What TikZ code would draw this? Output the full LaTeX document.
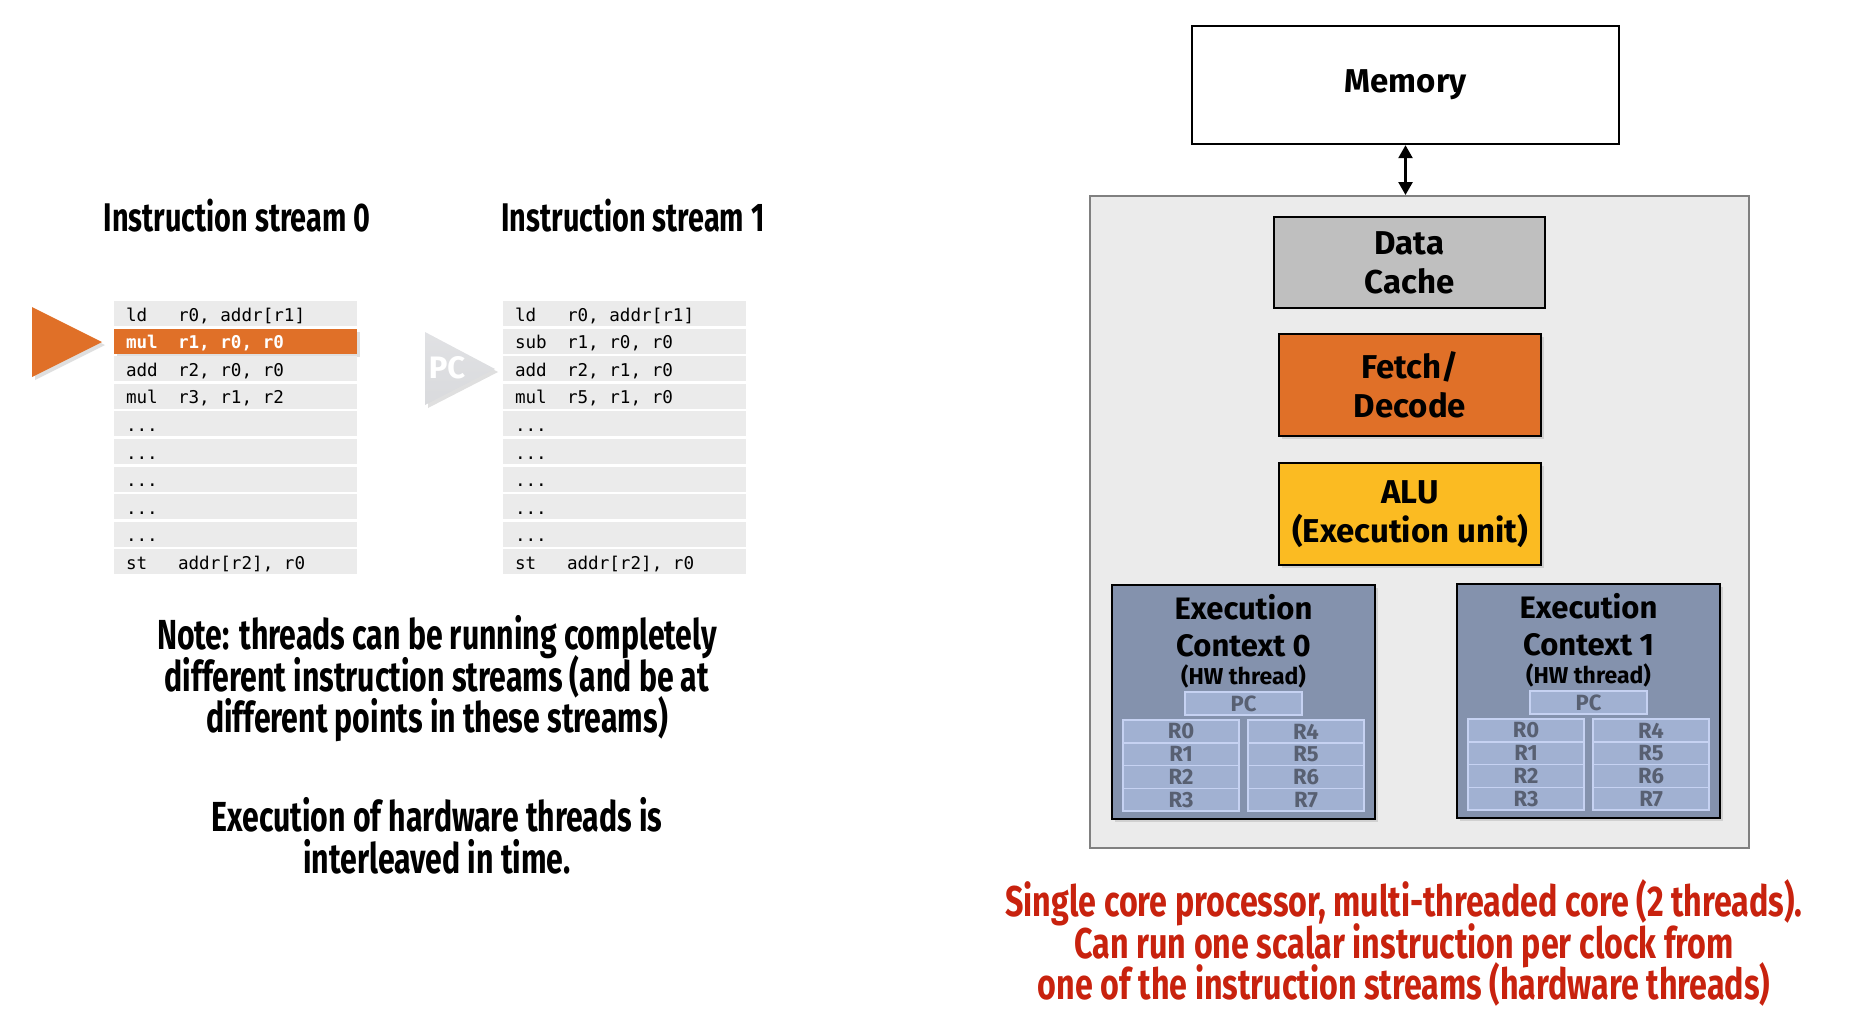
\documentclass[tikz,border=0pt]{standalone}
\usepackage{fontspec}
\setmainfont{Fira Sans}
\setmonofont{DejaVu Sans Mono}
\newfontfamily\condfont[FakeStretch=0.72]{Fira Sans}
\newfontfamily\capfont[FakeStretch=0.75]{Fira Sans}
\usetikzlibrary{arrows.meta, positioning, shadows, calc}

\definecolor{RowGray}{RGB}{235,235,235}
\definecolor{CoreGray}{RGB}{235,235,235}
\definecolor{CoreEdge}{RGB}{128,128,128}
\definecolor{CacheGray}{RGB}{191,191,191}
\definecolor{FetchOrange}{RGB}{224,112,40}
\definecolor{AluYellow}{RGB}{251,187,34}
\definecolor{CtxBlue}{RGB}{132,146,173}
\definecolor{RegBlue}{RGB}{161,177,210}
\definecolor{RegEdge}{RGB}{198,210,242}
\definecolor{RegText}{RGB}{88,96,114}
\definecolor{PcGray}{RGB}{217,218,221}
\definecolor{NoteRed}{RGB}{200,34,14}

\newcommand{\headfont}{\condfont\bfseries\fontsize{40}{41.5}\selectfont}
\newcommand{\notefont}{\condfont\bfseries\fontsize{42}{41.5}\selectfont\lineskiplimit=-100pt}
\newcommand{\capsfont}{\capfont\bfseries\fontsize{43}{41.5}\selectfont\lineskiplimit=-100pt}
\newcommand{\boxfont}{\bfseries\fontsize{33}{39}\selectfont\lineskiplimit=-100pt}
\newcommand{\codefont}{\ttfamily\fontsize{17.6}{20}\selectfont}
\newcommand{\regfont}{\bfseries\fontsize{22}{22}\selectfont}
\newcommand{\elide}{...}

\begin{document}
\begin{tikzpicture}[x=1pt, y=-1pt, >=Stealth,
    unitbox/.style={draw=black, line width=2.4pt, inner sep=0pt, align=center, font=\boxfont},
    softshadow/.style={drop shadow={opacity=0.25, shadow xshift=3pt, shadow yshift=-3pt}},
    coderow/.style={fill=RowGray, minimum width=243pt, minimum height=25pt, inner sep=0pt},
    hotrow/.style={coderow, fill=FetchOrange, softshadow},
    codetxt/.style={anchor=west, inner sep=0pt, font=\codefont, text height=15pt, text depth=0pt},
    hottxt/.style={codetxt, text=white, font=\codefont\bfseries},
    ctxbox/.style={draw=black, line width=2.6pt, fill=CtxBlue, minimum width=263pt, minimum height=234pt, softshadow},
    regcell/.style={draw=RegEdge, line width=1.5pt, fill=RegBlue, minimum width=116pt, minimum height=22.75pt, inner sep=0pt, text=RegText, font=\regfont}]
    \useasboundingbox (0,0) rectangle (1862,1034);

    % Headings of the two streams
    \node[font=\headfont] (head0) at (237,216) {Instruction stream 0};
    \node[font=\headfont] (head1) at (633,216) {Instruction stream 1};

    % Stream 0: rows, mnemonic column at +12, operands at +64
    \foreach \mn/\op [count=\i from 0] in {ld/{r0, addr[r1]}, mul/{r1, r0, r0}, add/{r2, r0, r0}, mul/{r3, r1, r2}, \elide/{}, \elide/{}, \elide/{}, \elide/{}, \elide/{}, st/{addr[r2], r0}} {
        \ifnum\i=1 \def\rowstyle{hotrow}\def\txtstyle{hottxt}\else\def\rowstyle{coderow}\def\txtstyle{codetxt}\fi
        \node[\rowstyle] (sa\i) at (235.5,{313.5+27.6*\i}) {};
        \node[\txtstyle] (sa\i m) at ($(sa\i.west)+(12,0)$) {\mn};
        \node[\txtstyle] (sa\i o) at ($(sa\i.west)+(64,0)$) {\op};
    }
    % Stream 1
    \foreach \mn/\op [count=\i from 0] in {ld/{r0, addr[r1]}, sub/{r1, r0, r0}, add/{r2, r1, r0}, mul/{r5, r1, r0}, \elide/{}, \elide/{}, \elide/{}, \elide/{}, \elide/{}, st/{addr[r2], r0}} {
        \node[coderow] (sb\i) at (624.5,{313.5+27.6*\i}) {};
        \node[codetxt] (sb\i m) at ($(sb\i.west)+(12,0)$) {\mn};
        \node[codetxt] (sb\i o) at ($(sb\i.west)+(64,0)$) {\op};
    }

    % Current instruction markers
    \fill[FetchOrange, softshadow] (32,307) -- (102,342) -- (32,377) -- cycle;
    \shade[top color=PcGray!80, bottom color=PcGray, softshadow] (425,332) -- (495,369) -- (425,405) -- cycle;
    \node[font=\bfseries\fontsize{31}{31}\selectfont, text=white] (pclabel) at (447,368) {PC};

    % Notes
    \node[font=\notefont, align=center] (note) at (437,679)
        {Note: threads can be running completely\\different instruction streams (and be at\\different points in these streams)};
    \node[font=\notefont, align=center] (interleave) at (437,836)
        {Execution of hardware threads is\\interleaved in time.};

    % Processor
    \node[unitbox, minimum width=427pt, minimum height=118pt] (mem) at (1405.5,85) {Memory};
    \node[draw=CoreEdge, fill=CoreGray, line width=2pt, minimum width=659pt, minimum height=652pt] (core) at (1419.5,522) {};
    \draw[<->, line width=2.6pt, >={Triangle[width=14pt, length=13pt]}] (mem.south) -- (mem.south |- core.north);
    \node[unitbox, fill=CacheGray, minimum width=271pt, minimum height=91pt] (cache) at (1409.5,262.5) {Data\\Cache};
    \node[unitbox, fill=FetchOrange, minimum width=262pt, minimum height=102pt, softshadow] (fetch) at (1410,385) {Fetch/\\Decode};
    \node[unitbox, fill=AluYellow, minimum width=262pt, minimum height=102pt, softshadow] (alu) at (1410,514) {ALU\\(Execution unit)};

    % Execution contexts
    \foreach \c/\cx/\cy in {0/1112/585, 1/1457/584} {
        \node[ctxbox] (ctx\c) at ({\cx+131.5},{\cy+117}) {};
        \node[font=\bfseries\fontsize{31}{37}\selectfont, align=center] (ctxname\c) at ({\cx+131.5},{\cy+40.5}) {Execution\\Context \c};
        \node[font=\bfseries\fontsize{23}{23}\selectfont] (ctxhw\c) at ({\cx+131.5},{\cy+91}) {(HW thread)};
        \node[regcell, minimum width=117pt] (pc\c) at ({\cx+131.5},{\cy+118.5}) {PC};
        \foreach \r in {0,...,3} {
            \pgfmathtruncatemacro{\rr}{\r+4}
            \node[regcell] (reg\c-\r) at ({\cx+69},{\cy+146.4+22.75*\r}) {R\r};
            \node[regcell] (reg\c-\rr) at ({\cx+194},{\cy+146.4+22.75*\r}) {R\rr};
        }
    }

    % Caption
    \node[font=\capsfont, text=NoteRed, align=center] (caption) at (1404,943)
        {Single core processor, multi-threaded core (2 threads).\\Can run one scalar instruction per clock from\\one of the instruction streams (hardware threads)};
\end{tikzpicture}
\end{document}
